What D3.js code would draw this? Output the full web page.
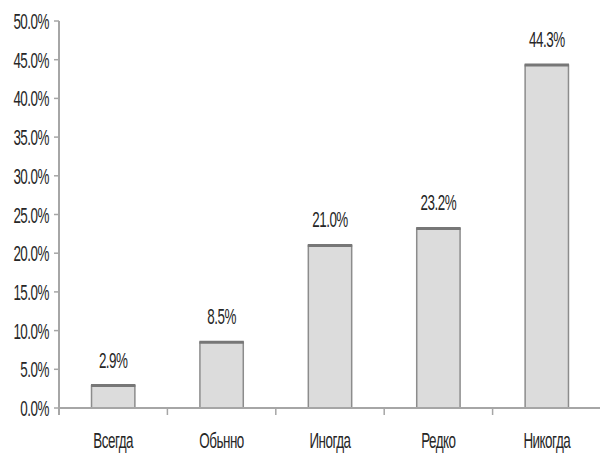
<!DOCTYPE html>
<html>
<head>
<meta charset="utf-8">
<script src="https://cdn.jsdelivr.net/npm/d3@7"></script>
<style>
  html, body { margin: 0; padding: 0; background: #fff; }
  text { font-family: "Liberation Sans", Arial, sans-serif; fill: #262626; }
</style>
</head>
<body>
<svg id="chart" width="600" height="454"></svg>
<script>
const categories = ["Всегда", "Обьнно", "Иногда", "Редко", "Никогда"];
const values = [2.9, 8.5, 21.0, 23.2, 44.3];
const yTicks = [0, 5, 10, 15, 20, 25, 30, 35, 40, 45, 50];

const svg = d3.select("#chart");
const margin = { left: 59, right: 0, top: 21, bottom: 46 };
const W = 600, H = 454;
const FS = 22, SQUEEZE = 0.61;

const x = d3.scaleBand()
  .domain(categories)
  .range([margin.left, 601])
  .paddingInner(0.6)
  .paddingOuter(0.3);

const y = d3.scaleLinear()
  .domain([0, 50])
  .range([H - margin.bottom, margin.top]);

const axisColor = "#a6a6a6";

// condensed text: draw at origin, then translate + horizontal squeeze
function condensed(sel, px, py) {
  sel.attr("x", 0).attr("y", 0)
    .attr("font-size", FS)
    .attr("letter-spacing", -0.8)
    .attr("transform", (d, i) => `translate(${px(d, i)},${py(d, i)}) scale(${SQUEEZE},1)`);
}

// Y axis ticks and labels
const yg = svg.append("g");
yg.selectAll("line")
  .data(yTicks)
  .join("line")
  .attr("x1", margin.left - 5).attr("x2", margin.left)
  .attr("y1", d => y(d)).attr("y2", d => y(d))
  .attr("stroke", axisColor).attr("stroke-width", 1.5);
yg.selectAll("text")
  .data(yTicks)
  .join("text")
  .attr("text-anchor", "end")
  .text(d => d.toFixed(1) + "%")
  .call(condensed, () => margin.left - 10, d => y(d) + 8);

svg.append("line")
  .attr("x1", margin.left).attr("x2", margin.left)
  .attr("y1", y(50)).attr("y2", y(0) + 7)
  .attr("stroke", axisColor).attr("stroke-width", 2);

// Bars
const bars = svg.append("g");
bars.selectAll("rect")
  .data(values)
  .join("rect")
  .attr("x", (d, i) => x(categories[i]))
  .attr("y", d => y(d))
  .attr("width", x.bandwidth())
  .attr("height", d => y(0) - y(d))
  .attr("fill", "#dcdcdc")
  .attr("stroke", "#8c8c8c")
  .attr("stroke-width", 1.5);

bars.selectAll("line.top")
  .data(values)
  .join("line")
  .attr("class", "top")
  .attr("x1", (d, i) => x(categories[i]) - 0.5)
  .attr("x2", (d, i) => x(categories[i]) + x.bandwidth() + 0.5)
  .attr("y1", d => y(d))
  .attr("y2", d => y(d))
  .attr("stroke", "#777")
  .attr("stroke-width", 3);

// Value labels
svg.append("g").selectAll("text")
  .data(values)
  .join("text")
  .attr("text-anchor", "middle")
  .text(d => d.toFixed(1) + "%")
  .call(condensed, (d, i) => x(categories[i]) + x.bandwidth() / 2, d => y(d) - 18);

// X axis
svg.append("line")
  .attr("x1", margin.left).attr("x2", W)
  .attr("y1", y(0)).attr("y2", y(0))
  .attr("stroke", axisColor).attr("stroke-width", 2);

const step = x.step();
const boundaries = categories.slice(1).map(c => x(c) - x.paddingInner() * step / 2);
svg.append("g").selectAll("line")
  .data(boundaries)
  .join("line")
  .attr("x1", d => d).attr("x2", d => d)
  .attr("y1", y(0)).attr("y2", y(0) + 7)
  .attr("stroke", axisColor).attr("stroke-width", 1.5);

svg.append("g").selectAll("text")
  .data(categories)
  .join("text")
  .attr("text-anchor", "middle")
  .text(d => d)
  .call(condensed, d => x(d) + x.bandwidth() / 2, () => 448);
</script>
</body>
</html>
